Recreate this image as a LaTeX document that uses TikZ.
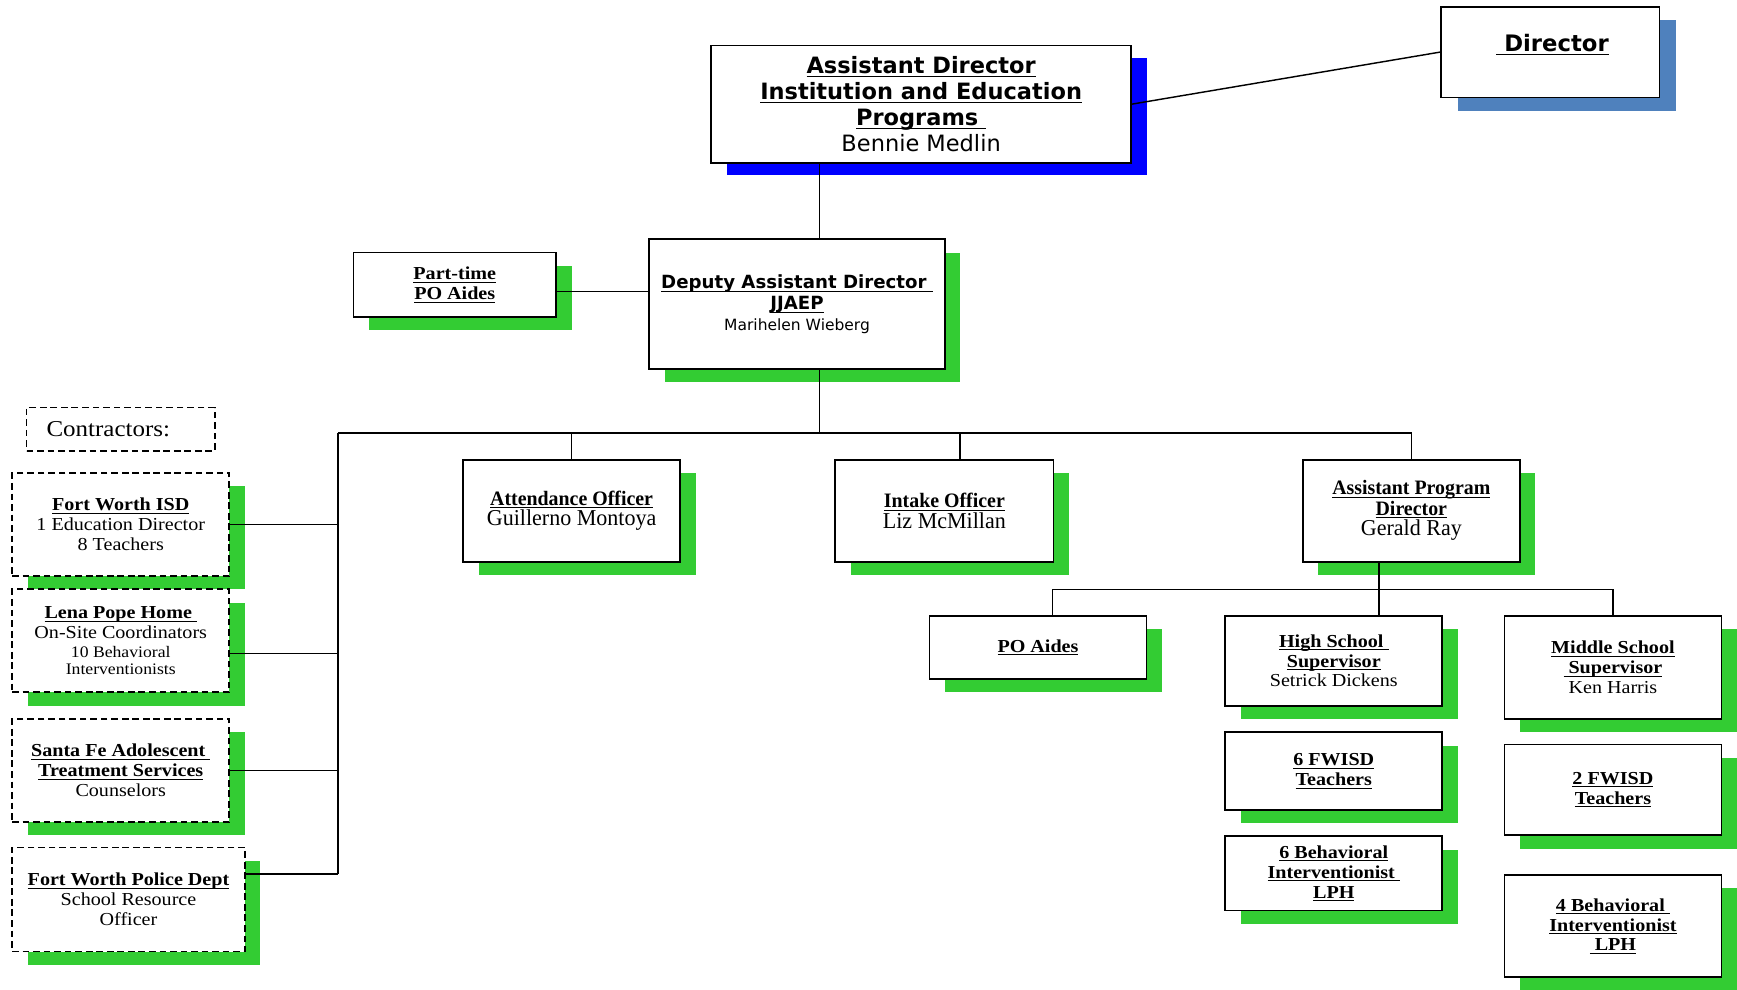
\documentclass[tikz,border=0pt]{standalone}
\usepackage{fontspec}
\setmainfont{Liberation Serif}[FakeStretch=1.1]
\newfontfamily\vfont{DejaVu Sans}
\newfontfamily\tallfont{Liberation Serif}[FakeStretch=0.97]
\usetikzlibrary{shadows}
\definecolor{shgreen}{RGB}{51,204,51}
\definecolor{shblue}{RGB}{0,0,255}
\definecolor{shsteel}{RGB}{79,129,189}
\newcommand\bu[1]{\textbf{\underline{\raisebox{0pt}[\height][0.6pt]{#1}}}}
\newcommand\bv[1]{\textbf{\underline{\raisebox{0pt}[\height][1.2pt]{#1}}}}
\newcommand\tightlines{\lineskiplimit=-20pt\relax\lineskip=0pt\relax}
\tikzset{
  box/.style={draw=black, line width=1.6pt, fill=white, align=center, inner sep=0pt},
  wh/.style 2 args={minimum width=#1pt, minimum height=#2pt},
  gsh/.style={general shadow={fill=shgreen, shadow xshift=14pt, shadow yshift=-12pt}},
  cbox/.style={box, dash pattern=on 6pt off 3.5pt, gsh},
  tms/.style={font=\fontsize{16.5}{18}\selectfont\tightlines},
  tall/.style={font=\tallfont\fontsize{18.5}{18.5}\selectfont\tightlines},
  conn/.style={line width=1.3pt, draw=black},
}
\begin{document}
\begin{tikzpicture}[x=1pt,y=-1pt]
\useasboundingbox (0,0) rectangle (1568,893);

% top
\node[box, wh={379}{106}, general shadow={fill=shblue, shadow xshift=14pt, shadow yshift=-11pt},
  font=\vfont\fontsize{20.3}{23.3}\selectfont\tightlines] (ad) at (831.5,94)
  {\bv{Assistant Director}\\ \bv{Institution and Education}\\ \bv{Programs\ }\\ Bennie Medlin};
\node[box, wh={197}{82}, general shadow={fill=shsteel, shadow xshift=15pt, shadow yshift=-12pt}] (dir) at (1399.5,47) {};
\node[font=\vfont\fontsize{20.5}{24}\selectfont, inner sep=0pt] (dirt) at (1401.5,40) {\bv{\ Director}};

% deputy
\node[box, gsh, wh={267}{117}, font=\vfont\fontsize{16.4}{19}\selectfont\tightlines] (dep) at (719.5,274.5)
  {\bv{Deputy Assistant Director\ }\\ \bv{JJAEP}\\ {\fontsize{14}{18}\selectfont Marihelen Wieberg}};
\node[box, gsh, wh={183}{58}, tms] (pt) at (410.5,257) {\bu{Part-time}\\ \bu{PO Aides}};

% contractors
\node[draw=black, line width=1.4pt, dash pattern=on 6pt off 3.5pt, wh={170}{39}, inner sep=0pt,
  text width=134pt, align=left, font=\fontsize{20.5}{20}\selectfont] (con) at (109,387.5) {Contractors:};
\node[cbox, wh={196}{93}, tms] (fw) at (109,473.5) {\bu{Fort Worth ISD}\\ 1 Education Director\\ 8 Teachers};
\node[cbox, wh={196}{93}, tms] (lp) at (109,578.5) {\bu{Lena Pope Home\ }\\ On-Site Coordinators\\[-1.5pt]
  {\fontsize{14.5}{16}\selectfont 10 Behavioral}\\[-2pt] {\fontsize{14.5}{16}\selectfont Interventionists}};
\node[cbox, wh={196}{93}, tms] (sf) at (109,695.5) {\bu{Santa Fe Adolescent\ }\\ \bu{Treatment Services}\\ Counselors};
\node[cbox, wh={210}{94}, tms] (pd) at (116,812) {\bu{Fort Worth Police Dept}\\ School Resource\\ Officer};

% middle row
\node[box, gsh, wh={196}{92}, tall] (att) at (516,461) {\bu{Attendance Officer}\\ {\fontsize{20.5}{18.5}\selectfont Guillerno Montoya}};
\node[box, gsh, wh={197}{92}, tall] (int) at (852.5,461) {\bu{Intake Officer}\\ {\fontsize{20.5}{18.5}\selectfont Liz McMillan}};
\node[box, gsh, wh={196}{92}, tall] (apd) at (1274,461) {\bu{Assistant Program}\\ \bu{Director}\\ {\fontsize{20.5}{18.5}\selectfont Gerald Ray}};

% lower
\node[box, gsh, wh={196}{57}, tms] (poa) at (937,584.5) {\bu{PO Aides}};
\node[box, gsh, wh={196}{81}, tms] (hs) at (1204,596.5) {\bu{High School\ }\\ \bu{Supervisor}\\ Setrick Dickens};
\node[box, gsh, wh={196}{70}, tms] (hsf) at (1204,696) {\bu{6 FWISD}\\ \bu{Teachers}};
\node[box, gsh, wh={196}{67}, tms] (hsb) at (1204,788.5) {\bu{6 Behavioral}\\ \bu{Interventionist\ }\\ \bu{LPH}};
\node[box, gsh, wh={196}{93}, tms] (ms) at (1456,602.5) {\bu{Middle School}\\ \bu{\ Supervisor}\\ Ken Harris};
\node[box, gsh, wh={196}{82}, tms] (msf) at (1456,713) {\bu{2 FWISD}\\ \bu{Teachers}};
\node[box, gsh, wh={196}{92}, tms] (msb) at (1456,836) {\bu{4 Behavioral\ }\\ \bu{Interventionist}\\ \bu{\ LPH}};

% connectors
\coordinate (b1) at (740,391);
\coordinate (bl) at (305,391);
\coordinate (bb) at (305,789);
\coordinate (b2) at (1245,532);
\draw[conn] (ad.east) -- (dir.west);
\draw[conn] (ad.south -| b1) -- (dep.north -| b1);
\draw[conn] ([yshift=-6pt]pt.east) -- ([yshift=-6pt]pt.east -| dep.west);
\draw[conn] (dep.south -| b1) -- (b1);
\draw[conn] (bl) -- (b1 -| apd.north) -- (apd.north);
\draw[conn] (att.north |- bl) -- (att.north);
\draw[conn] ([xshift=14pt]int.north |- bl) -- ([xshift=14pt]int.north);
\draw[conn] (bl) -- (bb);
\draw[conn] (fw.east -| bl) -- (fw.east);
\draw[conn] ([yshift=-11.5pt]lp.east -| bl) -- ([yshift=-11.5pt]lp.east);
\draw[conn] (sf.east -| bl) -- (sf.east);
\draw[conn] (bb) -- (bb -| pd.east);
\draw[conn] (apd.south -| b2) -- (b2);
\draw[conn] ([xshift=13pt]poa.north) -- ([xshift=13pt]poa.north |- b2) -- (b2 -| ms.north) -- (ms.north);
\draw[conn] (b2) -- (hs.north -| b2);
\end{tikzpicture}
\end{document}
